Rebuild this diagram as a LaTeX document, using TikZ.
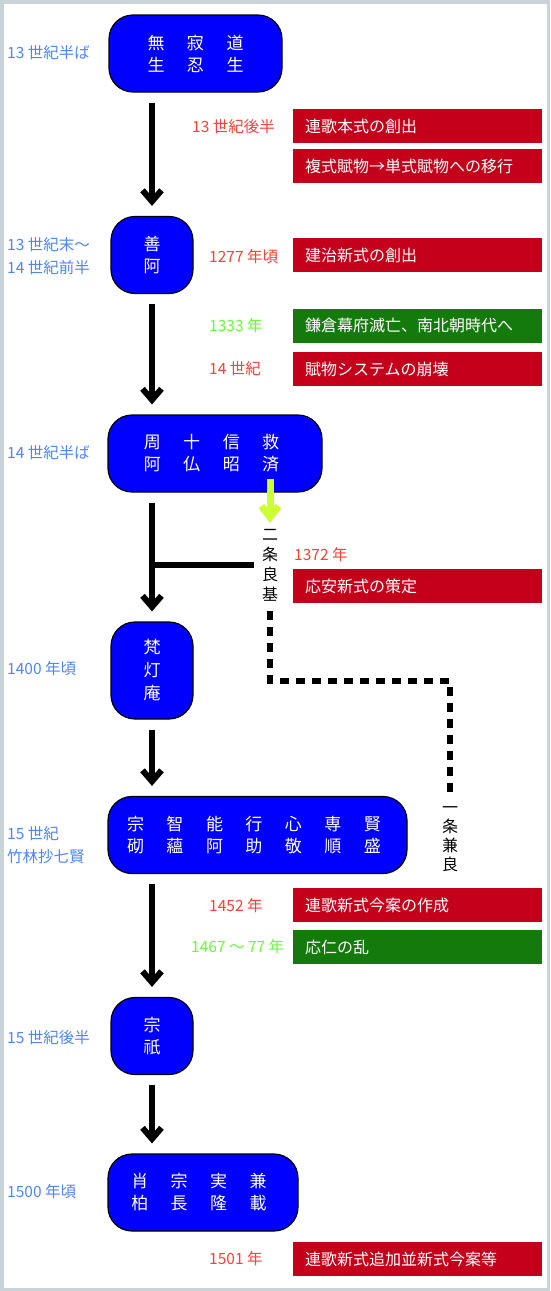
\documentclass[tikz,border=0pt]{standalone}
\usepackage{fontspec}
\setmainfont{Noto Sans CJK JP}
\usetikzlibrary{positioning,arrows.meta,calc}
\definecolor{nodeblue}{RGB}{0,0,255}
\definecolor{eventred}{RGB}{196,0,26}
\definecolor{eventgreen}{RGB}{20,122,12}
\definecolor{erablue}{RGB}{77,134,255}
\definecolor{datered}{RGB}{255,64,56}
\definecolor{dategreen}{RGB}{102,255,51}
\definecolor{linkgreen}{RGB}{204,255,51}
\definecolor{framegray}{RGB}{200,212,216}
\newcommand\gap{\hspace{22.5pt}}
\tikzset{
  personnode/.style={draw=black, line width=1.2pt, rounded corners=24pt, fill=nodeblue, text=white, align=center, minimum height=77pt, inner sep=0pt, font=\fontsize{17}{22}\selectfont},
  eventbox/.style={fill=eventred, text=white, anchor=west, minimum width=249pt, minimum height=34pt, text width=225pt, inner xsep=12pt, inner ysep=0pt, align=left, font=\fontsize{16}{18}\selectfont},
  warbox/.style={eventbox, fill=eventgreen},
  eralabel/.style={anchor=west, text=erablue, align=left, inner sep=0pt, font=\fontsize{15.5}{23}\selectfont},
  datelabel/.style={anchor=west, text=datered, inner sep=0pt, font=\fontsize{15.5}{18}\selectfont},
  wardate/.style={datelabel, text=dategreen},
  namelabel/.style={align=center, inner sep=0pt, font=\fontsize{16}{20}\selectfont},
  flowarrow/.style={-{Straight Barb[length=11pt, width=19pt]}, line width=6pt, shorten <=10pt, shorten >=10pt},
  linkarrow/.style={-{Straight Barb[length=11pt, width=17pt]}, line width=7pt, linkgreen},
  branchline/.style={line width=6pt},
  dashline/.style={line width=6pt, dash pattern=on 9pt off 7pt}
}

\begin{document}
\begin{tikzpicture}[x=1pt, y=-1pt]
  \useasboundingbox (0,0) rectangle (550,1291);
  \fill[framegray] (0,0) rectangle (550,1291);
  \fill[white] (3.5,3.5) rectangle (546.5,1287.5);

  \node[personnode, minimum width=173pt] (n1) at (195.5,53.5) {無\gap 寂\gap 道\\生\gap 忍\gap 生};
  \node[personnode, minimum width=82pt] (n2) at (152,255) {善\\阿};
  \node[personnode, minimum width=214pt] (n3) at (215,453.5) {周\gap 十\gap 信\gap 救\hspace*{7pt}\\阿\gap 仏\gap 昭\gap 済\hspace*{7pt}};
  \node[personnode, minimum width=82pt, minimum height=97pt, font=\fontsize{17}{23}\selectfont] (n4) at (152,670.5) {梵\\灯\\庵};
  \node[personnode, minimum width=299pt] (n5) at (257.5,835) {宗\gap 智\gap 能\gap 行\gap 心\gap 専\gap 賢\hspace*{7pt}\\砌\gap 蘊\gap 阿\gap 助\gap 敬\gap 順\gap 盛\hspace*{7pt}};
  \node[personnode, minimum width=82pt] (n6) at (152,1036) {宗\\祇};
  \node[personnode, minimum width=190pt] (n7) at (203,1192.5) {肖\gap 宗\gap 実\gap 兼\hspace*{8pt}\\柏\gap 長\gap 隆\gap 載\hspace*{8pt}};

  \node[eralabel] (e1) at (7,53) {13 世紀半ば};
  \node[eralabel] (e2) at (7,256) {13 世紀末～\\14 世紀前半};
  \node[eralabel] (e3) at (7,453) {14 世紀半ば};
  \node[eralabel] (e4) at (7,669) {1400 年頃};
  \node[eralabel] (e5) at (7,845) {15 世紀\\竹林抄七賢};
  \node[eralabel] (e6) at (7,1038) {15 世紀後半};
  \node[eralabel] (e7) at (7,1192) {1500 年頃};

  \node[datelabel] (d1) at (192,127) {13 世紀後半};
  \node[datelabel] (d2) at (209,257) {1277 年頃};
  \node[wardate] (d3) at (209,326) {1333 年};
  \node[datelabel] (d4) at (209,369) {14 世紀};
  \node[datelabel] (d5) at (294,555) {1372 年};
  \node[datelabel] (d6) at (209,906) {1452 年};
  \node[wardate] (d7) at (191,947) {1467 ～ 77 年};
  \node[datelabel] (d8) at (209,1259) {1501 年};

  \node[eventbox] (b1) at (293,126) {連歌本式の創出};
  \node[eventbox] (b2) at (293,166) {複式賦物→単式賦物への移行};
  \node[eventbox] (b3) at (293,255) {建治新式の創出};
  \node[warbox] (b4) at (293,325.5) {鎌倉幕府滅亡、南北朝時代へ};
  \node[eventbox] (b5) at (293,369) {賦物システムの崩壊};
  \node[eventbox] (b6) at (293,586) {応安新式の策定};
  \node[eventbox] (b7) at (293,905) {連歌新式今案の作成};
  \node[warbox] (b8) at (293,947) {応仁の乱};
  \node[eventbox] (b9) at (293,1259) {連歌新式追加並新式今案等};

  \node[namelabel] (nijo) at (270,565) {二\\条\\良\\基};
  \node[namelabel, font=\fontsize{16}{19}\selectfont] (ichijo) at (450,839) {一\\条\\兼\\良};
  \coordinate (jfoot) at (270,479);
  \coordinate (bend) at (270,681);

  \draw[flowarrow] (n1.south -| n2.north) -- (n2.north);
  \draw[flowarrow] (n2.south) -- (n3.north -| n2.south);
  \draw[flowarrow] (n3.south -| n4.north) -- (n4.north);
  \draw[flowarrow] (n4.south) -- (n5.north -| n4.south);
  \draw[flowarrow] (n5.south -| n6.north) -- (n6.north);
  \draw[flowarrow] (n6.south) -- (n7.north -| n6.south);
  \draw[branchline, shorten >=8pt] (nijo.west -| n4.north) -- (nijo.west);
  \draw[linkarrow, shorten >=6pt] (jfoot) -- (nijo.north);
  \draw[dashline, shorten <=10pt, shorten >=14pt] (nijo.south) -- (bend) -| (ichijo.north);
\end{tikzpicture}
\end{document}
